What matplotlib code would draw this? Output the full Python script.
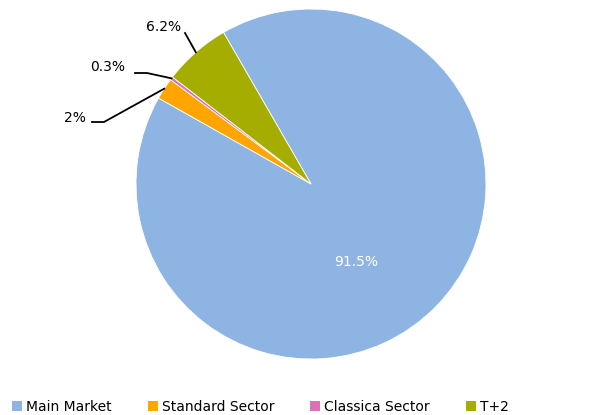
import numpy as np
import matplotlib.pyplot as plt
from matplotlib.patches import Patch

# data
labels = ['Main Market', 'Standard Sector', 'Classica Sector', 'T+2']
shares = [91.5, 2, 0.3, 6.2]
pct_text = ['91.5%', '2%', '0.3%', '6.2%']
colors = ['#8EB4E3', '#FFA500', '#E070B4', '#A5AE00']

fig = plt.figure(figsize=(6.02, 4.15), dpi=100)
ax = fig.add_axes([0, 0, 1, 1])

cx, cy, r = 311, 231, 175
wedges, _ = ax.pie(shares, colors=colors, startangle=120, counterclock=False,
                   center=(cx, cy), radius=r, frame=True,
                   wedgeprops=dict(edgecolor='white', linewidth=0.6))
ax.set_xlim(0, 602)
ax.set_ylim(0, 415)
ax.set_aspect('equal')
ax.axis('off')

# big slice label, inside in white
ax.text(cx + 45, cy - 78, pct_text[0], color='white', fontsize=10,
        ha='center', va='center')

# small slices: text position and elbow of the leader line
text_pos = {1: (86, 297), 2: (125, 348), 3: (181, 388)}
elbow = {1: (104, 293), 2: (147, 342), 3: (185, 382)}

for i in (1, 2, 3):
    w = wedges[i]
    mid = np.deg2rad((w.theta1 + w.theta2) / 2)
    ex, ey = cx + r * np.cos(mid), cy + r * np.sin(mid)
    bx, by = elbow[i]
    if i == 3:
        ax.plot([bx, ex], [by, ey], color='black', lw=1.3)
    else:
        ax.plot([bx - 12, bx, ex], [by, by, ey], color='black', lw=1.3)
    tx, ty = text_pos[i]
    ax.text(tx, ty, pct_text[i], fontsize=10, ha='right', va='center')

handles = [Patch(facecolor=c, edgecolor='none') for c in colors]
fig.legend(handles, labels, loc='lower left', ncol=4, frameon=False,
           bbox_to_anchor=(0.011, -0.010), borderaxespad=0, fontsize=10,
           handlelength=0.7, handleheight=0.7, handletextpad=0.3,
           columnspacing=2.6)

fig.savefig('out.png', dpi=100)
